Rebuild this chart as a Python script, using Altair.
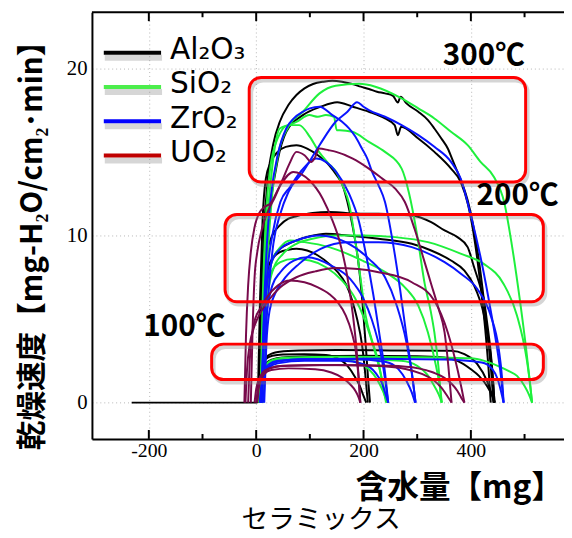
import altair as alt
import pandas as pd

# ---------------- data ----------------
MATERIALS = ["Al2O3", "SiO2", "ZrO2", "UO2"]
CURVE_COLORS = ["#000000", "#1ef03c", "#0a14ff", "#780a4b"]
LEGEND_LABELS = ["Al₂O₃", "SiO₂", "ZrO₂", "UO₂"]
LEGEND_COLORS = ["#000000", "#4cee4c", "#0000ff", "#c00000"]

X_LABEL_TICKS = [-200, 0, 200, 400]
X_MINOR_TICKS = [-100, 100, 300, 500]
Y_LABEL_TICKS = [0, 10, 20]

# Al2O3
AL300L1_X = [4, 8, 14, 22, 32, 44, 60, 75, 90, 106, 125, 142, 160, 179, 195, 210, 225, 240, 255, 264, 269, 280, 302, 320, 332, 345, 357, 366, 375, 385, 394, 405, 415, 424, 432, 438, 442]
AL300L1_Y = [0, 5, 10, 13.5, 15.5, 16.8, 17.8, 18.4, 18.8, 19.06, 19.2, 19.26, 19.2, 19.06, 18.9, 18.76, 18.6, 18.5, 18.35, 17.95, 18.3, 17.9, 17.4, 16.9, 16.4, 15.8, 15.2, 14.5, 13.8, 13.0, 12.1, 10.5, 8.5, 6.2, 3.8, 1.8, 0]
AL300L2_X = [5, 9, 15, 25, 40, 56, 87, 120, 151, 180, 210, 240, 258, 264, 270, 302, 332, 363, 381, 395, 408, 418, 427, 433, 437]
AL300L2_Y = [0, 4, 8, 11.5, 14.5, 16.2, 17.2, 17.7, 17.97, 17.7, 17.4, 17.0, 16.6, 16.0, 16.5, 15.8, 15.0, 14.0, 13.2, 11.8, 9.5, 7.0, 4.3, 2.0, 0]
AL300S_X = [3, 7, 12, 18, 26, 40, 55, 75, 95, 115, 136, 150, 161, 170, 180, 190, 198, 204, 209, 212]
AL300S_Y = [0, 6, 11, 13.4, 14.3, 15.0, 15.3, 15.4, 15.2, 14.8, 14.2, 13.6, 13.0, 12.0, 10.5, 8.5, 6.0, 3.5, 1.2, 0]
AL200L1_X = [5, 8, 12, 20, 30, 44, 60, 75, 105, 136, 167, 198, 228, 259, 290, 326, 351, 375, 394, 406, 416, 424, 431, 437, 441, 444]
AL200L1_Y = [0, 4, 7, 9, 10, 10.6, 11.0, 11.15, 11.35, 11.4, 11.35, 11.3, 11.3, 11.25, 11.2, 10.8, 10.3, 9.9, 9.3, 8.1, 7.1, 6.2, 4.6, 3.0, 1.5, 0]
AL200L2_X = [6, 9, 14, 22, 32, 44, 60, 75, 100, 130, 170, 228, 290, 326, 363, 388, 406, 416, 424, 431, 437, 441, 444]
AL200L2_Y = [0, 3.5, 6, 7.8, 8.7, 9.2, 9.5, 9.7, 9.95, 10.1, 10.0, 9.8, 9.5, 9.1, 8.5, 7.9, 7.0, 6.2, 5.3, 4.0, 2.8, 1.4, 0]
AL200S_X = [4, 8, 13, 20, 30, 44, 60, 75, 95, 115, 136, 152, 167, 178, 188, 197, 203, 208]
AL200S_Y = [0, 4, 6.5, 7.9, 8.6, 9.0, 9.15, 9.2, 9.1, 8.8, 8.3, 7.8, 7.1, 6.2, 5.0, 3.5, 1.8, 0]
AL100L1_X = [-232, 2, 5, 10, 18, 30, 44, 80, 150, 250, 363, 388, 412, 430, 438, 443]
AL100L1_Y = [0, 0, 1.2, 2.2, 2.7, 2.95, 3.05, 3.12, 3.15, 3.12, 3.1, 2.9, 2.3, 1.3, 0.6, 0]
AL100L2_X = [4, 7, 12, 20, 32, 50, 100, 200, 300, 350, 375, 400, 415, 430, 440, 445]
AL100L2_Y = [0, 1.2, 2.0, 2.4, 2.6, 2.7, 2.78, 2.8, 2.78, 2.7, 2.5, 2.0, 1.6, 1.0, 0.4, 0]
AL100S_X = [3, 6, 10, 18, 30, 50, 90, 130, 155, 170, 183, 193, 200, 205]
AL100S_Y = [0, 1.3, 2.2, 2.6, 2.8, 2.88, 2.9, 2.85, 2.6, 2.2, 1.6, 1.0, 0.4, 0]

# SiO2
SI300L_X = [12, 16, 22, 30, 42, 60, 87, 118, 148, 192, 222, 271, 302, 332, 363, 394, 418, 443, 462, 476, 491, 503, 510, 514]
SI300L_Y = [0, 5, 9, 12.5, 15, 16.5, 17.4, 18.5, 18.96, 19.07, 18.9, 18.2, 17.6, 17.0, 16.2, 15.4, 14.4, 13.5, 12.0, 9.5, 6.2, 3.2, 1.2, 0]
SI300M_X = [10, 14, 20, 28, 44, 60, 75, 99, 115, 130, 145, 150, 156, 179, 210, 240, 271, 285, 300, 314, 325, 332, 340, 345]
SI300M_Y = [0, 6, 10.5, 13.5, 16.4, 16.6, 16.8, 17.2, 17.1, 17.2, 17.1, 16.3, 16.3, 16.2, 15.6, 15.0, 14.0, 12.5, 10.0, 7.1, 5.5, 4.2, 2.0, 0]
SI300S_X = [8, 12, 18, 26, 40, 60, 80, 100, 117, 135, 149, 162, 173, 185, 195, 204, 215, 228, 236, 242]
SI300S_Y = [0, 6, 11, 14, 15.8, 16.6, 16.6, 15.9, 15.0, 14.3, 13.8, 12.9, 11.9, 9.6, 7.3, 5.2, 3.8, 2.4, 1.0, 0]
SI200L_X = [12, 16, 22, 32, 50, 75, 105, 148, 200, 259, 320, 382, 424, 461, 486, 504, 510, 514]
SI200L_Y = [0, 4, 6.5, 8.0, 8.9, 9.5, 9.8, 10.0, 10.0, 9.9, 9.6, 8.9, 8.3, 7.1, 5.2, 2.6, 1.2, 0]
SI200M_X = [10, 14, 20, 30, 45, 63, 90, 136, 198, 246, 277, 302, 320, 335, 342, 346]
SI200M_Y = [0, 4.5, 7, 8.5, 9.3, 9.7, 9.6, 9.3, 8.5, 7.7, 6.9, 5.8, 4.2, 2.2, 1.0, 0]
SI200S_X = [8, 12, 18, 28, 45, 70, 100, 130, 160, 185, 204, 220, 233, 240, 244]
SI200S_Y = [0, 4, 6.5, 7.8, 8.4, 8.6, 8.5, 8.1, 7.3, 6.2, 4.8, 3.2, 1.6, 0.6, 0]
SI100L_X = [6, 9, 14, 22, 35, 60, 150, 300, 400, 425, 450, 470, 486, 500, 508, 514]
SI100L_Y = [0, 1.2, 2.0, 2.4, 2.6, 2.7, 2.75, 2.72, 2.65, 2.5, 2.2, 1.9, 1.6, 1.0, 0.5, 0]
SI100M_X = [6, 9, 14, 22, 40, 100, 200, 270, 300, 318, 330, 340, 346]
SI100M_Y = [0, 1.1, 1.9, 2.3, 2.5, 2.6, 2.6, 2.5, 2.2, 1.7, 1.1, 0.5, 0]
SI100S_X = [5, 8, 13, 20, 35, 80, 150, 190, 210, 225, 236, 244]
SI100S_Y = [0, 1.1, 1.9, 2.3, 2.5, 2.62, 2.6, 2.4, 2.0, 1.4, 0.7, 0]

# ZrO2
ZR300L_X = [14, 18, 24, 32, 45, 60, 87, 118, 148, 170, 188, 200, 210, 240, 271, 302, 332, 363, 381, 400, 420, 437, 450, 457, 461]
ZR300L_Y = [0, 4, 7, 9.5, 11.3, 12.6, 13.8, 15.4, 16.8, 17.4, 17.97, 17.7, 17.5, 17.1, 16.6, 16.0, 15.3, 14.4, 13.4, 11.2, 8.4, 5.5, 3.0, 1.3, 0]
ZR300M_X = [10, 14, 20, 28, 40, 56, 70, 87, 100, 118, 142, 160, 173, 185, 197, 207, 216, 228, 240, 255, 268, 280, 290, 297]
ZR300M_Y = [0, 5, 9.5, 12.5, 14.8, 16.4, 17.0, 17.4, 17.6, 17.7, 17.2, 16.8, 16.4, 15.9, 15.2, 14.6, 13.8, 13.0, 12.0, 9.5, 6.8, 4.0, 1.8, 0]
ZR300S_X = [10, 14, 20, 30, 45, 63, 85, 112, 130, 149, 173, 191, 205, 218, 230, 240, 246]
ZR300S_Y = [0, 4, 7.5, 10, 12, 12.9, 13.9, 14.6, 14.4, 13.8, 12.5, 10.9, 8.8, 6.5, 4.0, 1.8, 0]
ZR200L_X = [15, 19, 25, 35, 50, 80, 120, 170, 228, 290, 351, 382, 412, 437, 452, 458, 461]
ZR200L_Y = [0, 3.5, 5.5, 6.5, 7.3, 8.3, 9.2, 9.6, 9.6, 9.3, 8.4, 7.7, 6.8, 5.2, 3.2, 1.5, 0]
ZR200M_X = [10, 14, 20, 30, 45, 75, 118, 167, 210, 240, 262, 280, 292, 297]
ZR200M_Y = [0, 4.5, 7, 8.5, 9.2, 9.7, 10.0, 9.6, 8.6, 7.5, 5.8, 3.6, 1.3, 0]
ZR200S_X = [10, 14, 20, 30, 45, 70, 95, 140, 175, 200, 215, 233, 241, 246]
ZR200S_Y = [0, 3.5, 5.5, 7.0, 7.8, 8.5, 8.7, 8.2, 7.4, 6.2, 5.0, 2.8, 1.2, 0]
ZR100L_X = [8, 11, 16, 25, 40, 80, 200, 350, 420, 440, 450, 456, 461]
ZR100L_Y = [0, 1.0, 1.8, 2.2, 2.45, 2.6, 2.62, 2.58, 2.4, 2.0, 1.4, 0.7, 0]
ZR100M_X = [7, 10, 15, 24, 40, 90, 180, 240, 265, 280, 290, 296]
ZR100M_Y = [0, 1.1, 1.9, 2.3, 2.5, 2.6, 2.6, 2.45, 2.0, 1.3, 0.6, 0]
ZR100S_X = [7, 10, 15, 24, 40, 90, 160, 200, 222, 235, 241, 246]
ZR100S_Y = [0, 1.0, 1.7, 2.1, 2.35, 2.5, 2.5, 2.3, 1.8, 1.1, 0.5, 0]

# UO2
UO300M_X = [-10, -7, -3, 2, 10, 20, 35, 50, 62, 75, 90, 103, 110, 117, 135, 149, 180, 210, 235, 259, 277, 295, 312, 326, 340, 351, 358, 364]
UO300M_Y = [0, 4, 7.5, 9.0, 10.3, 11.3, 12.3, 13.4, 14.3, 15.0, 14.8, 14.4, 14.7, 15.2, 15.1, 15.0, 14.6, 14.0, 13.4, 12.8, 12.0, 10.4, 8.6, 7.1, 5.6, 4.2, 2.2, 0]
UO300S_X = [-22, -19, -15, -10, -3, 5, 15, 26, 45, 69, 99, 124, 142, 155, 170, 180, 187, 191, 194]
UO300S_Y = [0, 4, 7, 9, 10.5, 11.3, 11.7, 11.9, 13.0, 13.8, 13.3, 12.2, 10.9, 9.7, 7.5, 5.3, 3.2, 1.5, 0]
UO200L_X = [-20, -17, -12, -6, 2, 12, 25, 45, 75, 110, 148, 190, 228, 290, 332, 357, 375, 383, 388]
UO200L_Y = [0, 2.0, 3.5, 4.3, 5.0, 5.6, 6.2, 6.9, 7.5, 7.85, 8.05, 8.0, 7.8, 7.2, 6.1, 4.2, 2.0, 0.8, 0]
UO200S_X = [-15, -12, -8, -2, 7, 20, 40, 63, 90, 115, 136, 152, 167, 178, 185, 190, 194]
UO200S_Y = [0, 2.5, 4.0, 5.0, 5.6, 6.3, 7.0, 7.3, 7.2, 6.9, 6.5, 6.0, 5.2, 4.2, 3.2, 1.8, 0]
UO100L_X = [2, 5, 10, 18, 30, 60, 150, 250, 302, 330, 350, 365, 375, 382, 388]
UO100L_Y = [0, 0.9, 1.5, 1.9, 2.1, 2.2, 2.25, 2.2, 2.05, 1.8, 1.5, 1.1, 0.7, 0.3, 0]
UO100M_X = [-3, 0, 5, 12, 25, 50, 120, 220, 280, 310, 330, 345, 356, 364]
UO100M_Y = [0, 0.8, 1.4, 1.8, 2.05, 2.2, 2.25, 2.2, 2.0, 1.7, 1.35, 0.9, 0.4, 0]
UO100S_X = [0, 3, 8, 15, 28, 60, 110, 140, 160, 175, 185, 191, 194]
UO100S_Y = [0, 0.8, 1.3, 1.7, 1.95, 2.05, 2.0, 1.8, 1.5, 1.1, 0.7, 0.3, 0]

CURVES = [
    ("Al2O3", AL300L1_X, AL300L1_Y), ("Al2O3", AL300L2_X, AL300L2_Y), ("Al2O3", AL300S_X, AL300S_Y),
    ("Al2O3", AL200L1_X, AL200L1_Y), ("Al2O3", AL200L2_X, AL200L2_Y), ("Al2O3", AL200S_X, AL200S_Y),
    ("Al2O3", AL100L1_X, AL100L1_Y), ("Al2O3", AL100L2_X, AL100L2_Y), ("Al2O3", AL100S_X, AL100S_Y),
    ("SiO2", SI300L_X, SI300L_Y), ("SiO2", SI300M_X, SI300M_Y), ("SiO2", SI300S_X, SI300S_Y),
    ("SiO2", SI200L_X, SI200L_Y), ("SiO2", SI200M_X, SI200M_Y), ("SiO2", SI200S_X, SI200S_Y),
    ("SiO2", SI100L_X, SI100L_Y), ("SiO2", SI100M_X, SI100M_Y), ("SiO2", SI100S_X, SI100S_Y),
    ("ZrO2", ZR300L_X, ZR300L_Y), ("ZrO2", ZR300M_X, ZR300M_Y), ("ZrO2", ZR300S_X, ZR300S_Y),
    ("ZrO2", ZR200L_X, ZR200L_Y), ("ZrO2", ZR200M_X, ZR200M_Y), ("ZrO2", ZR200S_X, ZR200S_Y),
    ("ZrO2", ZR100L_X, ZR100L_Y), ("ZrO2", ZR100M_X, ZR100M_Y), ("ZrO2", ZR100S_X, ZR100S_Y),
    ("UO2", UO300M_X, UO300M_Y), ("UO2", UO300S_X, UO300S_Y),
    ("UO2", UO200L_X, UO200L_Y), ("UO2", UO200S_X, UO200S_Y),
    ("UO2", UO100L_X, UO100L_Y), ("UO2", UO100M_X, UO100M_Y), ("UO2", UO100S_X, UO100S_Y),
]

# highlight boxes (data space) and temperature labels
BOX_X1 = [-13, -58, -83]
BOX_X2 = [502, 535, 535]
BOX_Y1 = [13.2, 6.04, 1.38]
BOX_Y2 = [19.45, 11.26, 3.50]
TEMP_TEXT = ["300℃", "200℃", "100℃"]
TEMP_X = [424, 487, -134]
TEMP_Y = [20.75, 12.35, 4.5]

# ---------------- build ----------------
rows = []
for k, (mat, xs, ys) in enumerate(CURVES):
    assert len(xs) == len(ys)
    for i, (xv, yv) in enumerate(zip(xs, ys)):
        rows.append({"curve": f"c{k:02d}", "mat": mat, "i": i, "x": xv, "y": yv})
df = pd.DataFrame(rows)

W, H = 478, 432
xscale = alt.Scale(domain=[-306, 573.5], nice=False, zero=False)
yscale = alt.Scale(domain=[-2.17, 23.35], nice=False, zero=False)
xaxis = alt.Axis(values=X_LABEL_TICKS, title=None, ticks=False, labelFont="Liberation Serif",
                 labelFontSize=20, labelColor="black", labelPadding=2, domainColor="black",
                 domainWidth=2, grid=True, gridDash=[1, 3], gridColor="#b5b5b5",
                 labelExpr="datum.value + ''", labelFlush=False)
yaxis = alt.Axis(values=Y_LABEL_TICKS, title=None, ticks=False, labelFont="Liberation Serif",
                 labelFontSize=21, labelColor="black", labelPadding=5, domainColor="black",
                 domainWidth=2, grid=True, gridDash=[1, 3], gridColor="#b5b5b5")
XE = alt.X("x:Q", scale=xscale, axis=xaxis)
YE = alt.Y("y:Q", scale=yscale, axis=yaxis)

lines = alt.Chart(df).mark_line(interpolate="monotone", strokeWidth=2).encode(
    x=XE, y=YE,
    color=alt.Color("mat:N", scale=alt.Scale(domain=MATERIALS, range=CURVE_COLORS), legend=None),
    detail="curve:N", order="i:Q")

boxdf = pd.DataFrame({"x": BOX_X1, "x2": BOX_X2, "y": BOX_Y1, "y2": BOX_Y2})
box_shadow = alt.Chart(boxdf).mark_rect(fillOpacity=0, stroke="#888888", strokeOpacity=0.35,
                                        strokeWidth=4, cornerRadius=12, xOffset=2, x2Offset=2,
                                        yOffset=3, y2Offset=3).encode(
    x=XE, x2="x2:Q", y=YE, y2="y2:Q")
boxes = alt.Chart(boxdf).mark_rect(fillOpacity=0, stroke="#ff0000", strokeWidth=3,
                                   cornerRadius=12).encode(x=XE, x2="x2:Q", y=YE, y2="y2:Q")

tempdf = pd.DataFrame({"x": TEMP_X, "y": TEMP_Y, "t": TEMP_TEXT})
temps = alt.Chart(tempdf).mark_text(font="Noto Sans CJK JP", fontSize=30, fontWeight="bold",
                                    color="black", align="center", baseline="middle").encode(
    x=XE, y=YE, text="t:N")

one = pd.DataFrame({"d": [0]})
top_frame = alt.Chart(one).mark_rule(color="black", strokeWidth=2).encode(
    x=alt.value(0), x2=alt.value(W), y=alt.value(0))

tick_major = pd.DataFrame({"x": X_LABEL_TICKS})
tick_minor = pd.DataFrame({"x": X_MINOR_TICKS})
ticks = []
for tdf, ln in ((tick_major, 9), (tick_minor, 5)):
    ticks.append(alt.Chart(tdf).mark_rule(color="black", strokeWidth=2).encode(
        x=XE, y=alt.value(H), y2=alt.value(H - ln)))
    ticks.append(alt.Chart(tdf).mark_rule(color="black", strokeWidth=2).encode(
        x=XE, y=alt.value(0), y2=alt.value(ln)))

legend_layers = []
for j, (lab, col) in enumerate(zip(LEGEND_LABELS, LEGEND_COLORS)):
    ly = 41 + 34.7 * j
    d = pd.DataFrame({"t": [lab]})
    legend_layers.append(alt.Chart(d).mark_rule(color="#777777", strokeWidth=6, opacity=0.3,
                                                yOffset=5).encode(
        x=alt.value(13), x2=alt.value(71), y=alt.value(ly)))
    legend_layers.append(alt.Chart(d).mark_rule(color=col, strokeWidth=4).encode(
        x=alt.value(12), x2=alt.value(70), y=alt.value(ly)))
    legend_layers.append(alt.Chart(d).mark_text(font="DejaVu Sans", fontSize=30, color="black",
                                                align="left", baseline="alphabetic").encode(
        x=alt.value(79), y=alt.value(ly + 6.5), text="t:N"))

ytitle = alt.Chart(pd.DataFrame({"t": ["乾燥速度【mg-H₂O/cm₂･min】"]})).mark_text(
    font="Noto Sans CJK JP", fontSize=30, fontWeight="bold", angle=270, color="black",
    align="center", baseline="middle").encode(x=alt.value(-60), y=alt.value(229), text="t:N")
xtitle = alt.Chart(pd.DataFrame({"t": ["含水量【mg】"]})).mark_text(
    font="Noto Sans CJK JP", fontSize=32, fontWeight="bold", color="black",
    align="right", baseline="middle").encode(x=alt.value(W - 1), y=alt.value(482), text="t:N")
subtitle = alt.Chart(pd.DataFrame({"t": ["セラミックス"]})).mark_text(
    font="Noto Sans CJK JP", fontSize=27, color="black",
    align="center", baseline="middle").encode(x=alt.value(232), y=alt.value(514), text="t:N")

chart = alt.layer(
    lines, box_shadow, boxes, temps, top_frame, *ticks, *legend_layers, ytitle, xtitle, subtitle
).properties(
    width=W, height=H,
    padding={"left": 85, "top": 1, "right": 0, "bottom": 97},
    autosize=alt.AutoSizeParams(type="none"),
).configure_view(strokeWidth=0)

chart.save("out.html", embed_options={"renderer": "svg", "actions": False})
